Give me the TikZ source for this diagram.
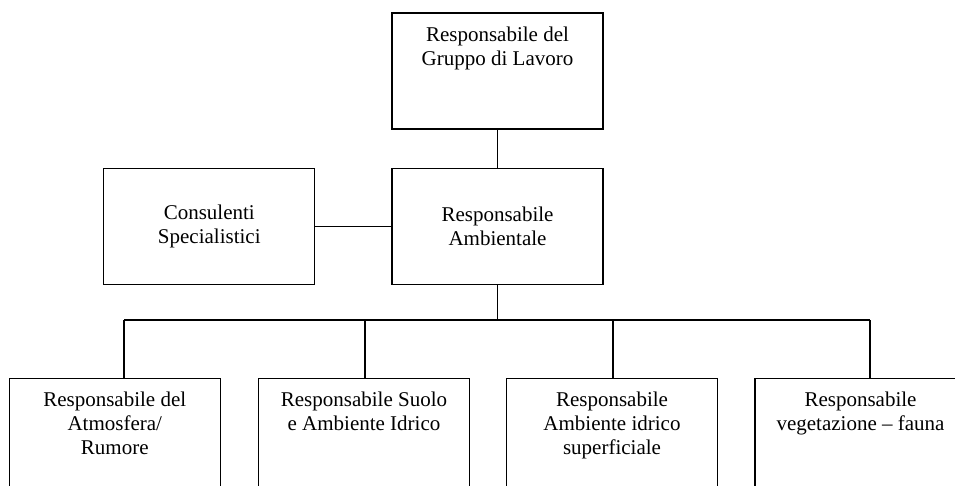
\documentclass[tikz,border=0pt]{standalone}
\usepackage{fontspec}
\setmainfont{Liberation Serif}
\usetikzlibrary{positioning}

\tikzset{
  box/.style={draw, line width=1.2pt, minimum width=211pt, minimum height=116pt, inner sep=0pt},
  boxtext/.style={anchor=north, align=center, inner sep=0pt, yshift=-14pt},
  headbox/.style={box, label={[boxtext]north:{#1}}},
  link/.style={line width=1.2pt},
}

\begin{document}
\begin{tikzpicture}[x=1pt, y=-1pt, font=\fontsize{21}{24}\selectfont]
  \clip (0,0) rectangle (955,485);

  \node[headbox={Responsabile del\\Gruppo di Lavoro}] (gruppo) at (497.5,71) {};
  \node[box, align=center, below=38pt of gruppo] (ambiente) {Responsabile\\Ambientale};
  \node[box, align=center, left=76pt of ambiente] (consulenti) {Consulenti\\Specialistici};

  % settori
  \node[headbox={Responsabile del\\Atmosfera/\\Rumore}, anchor=north, minimum height=120pt] (atmosfera) at (114.75,378) {};
  \node[headbox={Responsabile Suolo\\e Ambiente Idrico}, anchor=north, minimum height=120pt] (suolo) at (364,378) {};
  \node[headbox={Responsabile\\Ambiente idrico\\superficiale}, anchor=north, minimum height=120pt] (idrico) at (612,378) {};
  \node[headbox={Responsabile\\vegetazione -- fauna}, anchor=north, minimum height=120pt] (fauna) at (860.5,378) {};

  \coordinate (hub) at (497.5,320);
  \coordinate (bus1) at (124,320);
  \coordinate (bus2) at (365,320);
  \coordinate (bus3) at (613,320);
  \coordinate (bus4) at (870,320);

  \draw[link] (gruppo) -- (ambiente);
  \draw[link] (consulenti) -- (ambiente);
  \draw[link] (ambiente) -- (hub);
  \draw[link] (bus1) -- (bus4);
  \draw[link] (bus1) -- (bus1 |- atmosfera.north);
  \draw[link] (bus2) -- (bus2 |- suolo.north);
  \draw[link] (bus3) -- (bus3 |- idrico.north);
  \draw[link] (bus4) -- (bus4 |- fauna.north);
\end{tikzpicture}
\end{document}
